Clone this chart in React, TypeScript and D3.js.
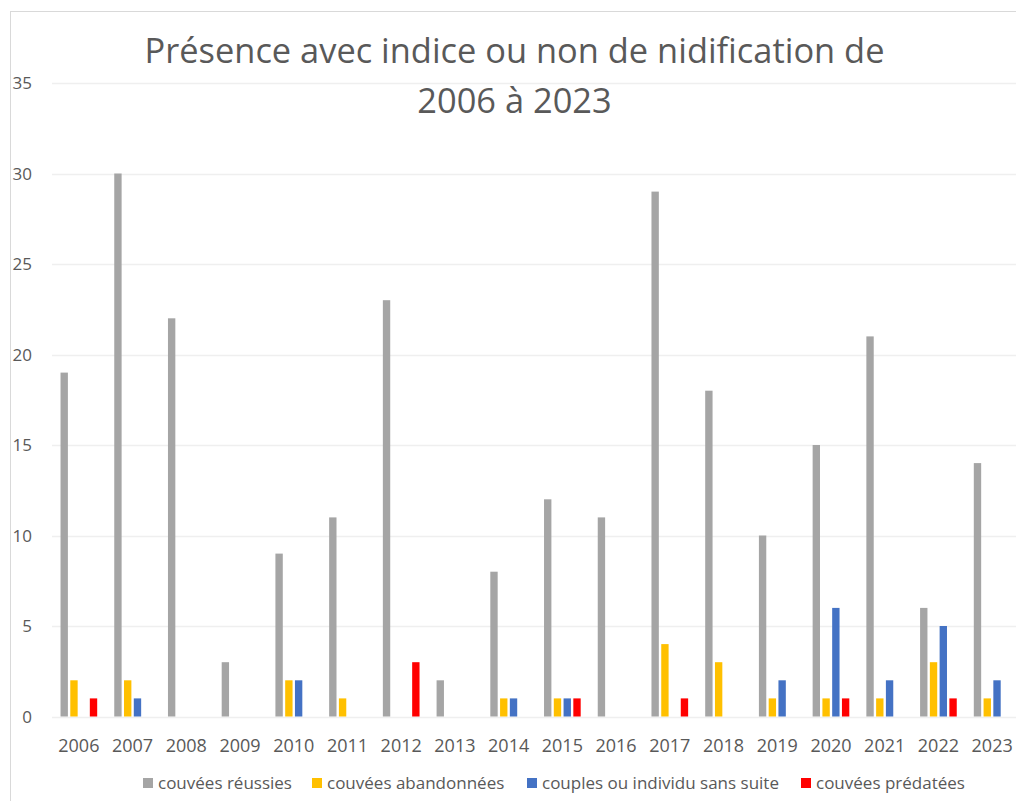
import React, { useEffect, useRef } from 'react';
import * as d3 from 'd3';

const years = ['2006', '2007', '2008', '2009', '2010', '2011', '2012', '2013', '2014', '2015', '2016', '2017', '2018', '2019', '2020', '2021', '2022', '2023'];
const seriesNames = ['couvées réussies', 'couvées abandonnées', 'couples ou individu sans suite', 'couvées prédatées'];
const reussies = [19, 30, 22, 3, 9, 11, 23, 2, 8, 12, 11, 29, 18, 10, 15, 21, 6, 14];
const abandonnees = [2, 2, 0, 0, 2, 1, 0, 0, 1, 1, 0, 4, 3, 1, 1, 1, 3, 1];
const couples = [0, 1, 0, 0, 2, 0, 0, 0, 1, 1, 0, 0, 0, 2, 6, 2, 5, 2];
const predatees = [1, 0, 0, 0, 0, 0, 3, 0, 0, 1, 0, 1, 0, 0, 1, 0, 1, 0];
const yTicks = [0, 5, 10, 15, 20, 25, 30, 35];
const colors = ['#A5A5A5', '#FFC000', '#4472C4', '#FF0000'];

const App: React.FC = () => {
    const ref = useRef<SVGSVGElement>(null);

    useEffect(() => {
        if (!ref.current) return;
        const svg = d3.select(ref.current);
        svg.selectAll('*').remove();

        const font = "'Open Sans', sans-serif";
        const textColor = '#595959';
        const left = 52, right = 1019, top = 83, bottom = 716.5;

        // chart frame
        svg.append('rect')
            .attr('x', 10.5).attr('y', 11.5)
            .attr('width', 1020).attr('height', 800)
            .attr('fill', 'white')
            .attr('stroke', '#D9D9D9');

        const x = d3.scaleBand().domain(years).range([left, right])
            .paddingInner(1.5 / 5.5).paddingOuter(0.75 / 5.5);
        const xs = d3.scaleBand().domain(seriesNames).range([0, x.bandwidth()]);
        const y = d3.scaleLinear().domain([0, 35]).range([bottom, top]);

        // gridlines
        svg.selectAll('line.grid')
            .data(yTicks)
            .enter()
            .append('line')
            .attr('x1', left).attr('x2', 1016)
            .attr('y1', d => Math.round(y(d)) + 0.5)
            .attr('y2', d => Math.round(y(d)) + 0.5)
            .attr('stroke', '#EFEFEF')
            .attr('stroke-width', 1.5);

        // y labels
        svg.selectAll('text.ylab')
            .data(yTicks)
            .enter()
            .append('text')
            .attr('x', 32)
            .attr('y', d => y(d) + 6)
            .attr('text-anchor', 'end')
            .attr('font-family', font)
            .attr('font-size', 17)
            .attr('fill', textColor)
            .text(d => d);

        // bars
        const allSeries = [reussies, abandonnees, couples, predatees];
        allSeries.forEach((vals, si) => {
            svg.append('g')
                .selectAll('rect')
                .data(vals.map((v, i) => ({ year: years[i], v })).filter(d => d.v > 0))
                .enter()
                .append('rect')
                .attr('x', d => (x(d.year) as number) + (xs(seriesNames[si]) as number) + 1.2)
                .attr('width', xs.bandwidth() - 2.4)
                .attr('y', d => y(d.v))
                .attr('height', d => bottom - y(d.v))
                .attr('fill', colors[si]);
        });

        // x labels
        svg.selectAll('text.xlab')
            .data(years)
            .enter()
            .append('text')
            .attr('x', d => (x(d) as number) + x.bandwidth() / 2)
            .attr('y', 752)
            .attr('text-anchor', 'middle')
            .attr('font-family', font)
            .attr('font-size', 18)
            .attr('fill', textColor)
            .text(d => d);

        // title
        const title = svg.append('text')
            .attr('text-anchor', 'middle')
            .attr('font-family', font)
            .attr('font-size', 34.4)
            .attr('fill', textColor);
        title.append('tspan').attr('x', 514.5).attr('y', 63).text('Présence avec indice ou non de nidification de');
        title.append('tspan').attr('x', 514.5).attr('y', 113).text('2006 à 2023');

        // legend
        const legendX = [143, 312, 527, 801];
        seriesNames.forEach((name, i) => {
            svg.append('rect')
                .attr('x', legendX[i]).attr('y', 778)
                .attr('width', 10).attr('height', 10)
                .attr('fill', colors[i]);
            svg.append('text')
                .attr('x', legendX[i] + 15).attr('y', 789)
                .attr('font-family', font)
                .attr('font-size', 17)
                .attr('fill', textColor)
                .text(name);
        });
    }, []);

    return (
        <svg ref={ref} width={1016} height={801}
            style={{ position: 'absolute', left: 0, top: 0, background: 'white' }} />
    );
};

export default App;
